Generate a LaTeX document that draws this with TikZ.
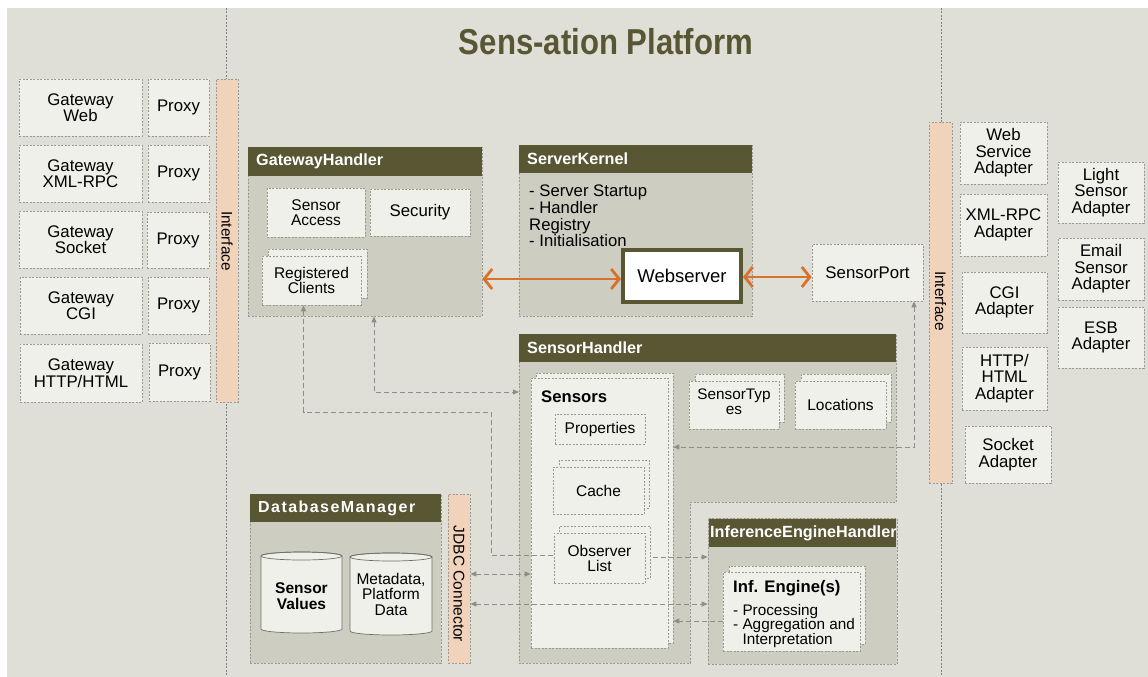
\documentclass[tikz,border=0pt]{standalone}
\usepackage{fontspec}
\usepackage{graphicx}
\setmainfont{Liberation Sans}
\usetikzlibrary{arrows.meta}
\pgfdeclarelayer{mid}
\pgfdeclarelayer{top}
\pgfsetlayers{main,mid,top}
\definecolor{bgc}{HTML}{DFDFD8}
\definecolor{panelc}{HTML}{CDCDC1}
\definecolor{sheetc}{HTML}{F0F0EB}
\definecolor{olivec}{HTML}{585633}
\definecolor{barc}{HTML}{F1D3BB}
\definecolor{orangec}{HTML}{D8722B}
\definecolor{edgec}{HTML}{9A9A92}
\definecolor{connc}{HTML}{8E8E88}
\definecolor{cylc}{HTML}{707068}
\newcommand{\fsz}[2]{\fontsize{#1}{#2}\selectfont}
\newcommand{\boxat}[7]{\node[#1, minimum width={(#5-#3)*1pt}, minimum height={(#6-#4)*1pt}] (#2) at ({(#3+#5)/2},{(#4+#6)/2}) {#7};}
\tikzset{
  edgeline/.style={draw=edgec, line width=0.7pt, dash pattern=on 2pt off 1.5pt},
  sheetbg/.style={edgeline, fill=sheetc, inner sep=0pt},
  sheet/.style={edgeline, fill=sheetc, inner sep=0pt, align=center, font=\fsz{16.8}{16.5}},
  smalltext/.style={font=\fsz{15.5}{15.5}},
  panel/.style={edgeline, fill=panelc, inner sep=0pt},
  hdr/.style={fill=olivec, inner sep=0pt},
  hdrtext/.style={text=white, font=\bfseries\fsz{16.2}{16}, anchor=west, inner sep=0pt},
  bar/.style={edgeline, fill=barc, inner sep=0pt},
  bartext/.style={rotate=-90, font=\fsz{15.3}{15}, inner sep=0pt},
  webbox/.style={draw=olivec, line width=4pt, fill=white, inner sep=0pt, font=\fsz{18.5}{18.5}},
  cyl/.style={draw=cylc, line width=0.7pt, fill=sheetc},
  conn/.style={draw=connc, line width=0.8pt, dash pattern=on 5pt off 3pt, >={Triangle[length=6pt,width=5pt]}},
  oarrow/.style={draw=orangec, line width=2.8pt, arrows={Straight Barb[length=8pt,width=20pt]-Straight Barb[length=8pt,width=20pt]}},
}
\begin{document}
\begin{tikzpicture}[x=1pt,y=-1pt]
\useasboundingbox (0,0) rectangle (1148,677);
\fill[white] (0,0) rectangle (1148,677);
\fill[bgc] (7,8) rectangle (1148,677);
% separators
\draw[draw=gray, line width=0.6pt, dash pattern=on 2pt off 1.5pt] (226,8) -- (226,677);
\draw[draw=gray, line width=0.6pt, dash pattern=on 2pt off 1.5pt] (941,8) -- (941,677);
% title
\node[font=\bfseries\fsz{36}{36}, text=olivec, inner sep=0pt] (title) at (606,42) {\scalebox{0.865}[1]{Sens-ation Platform}};
% left column
\boxat{sheet}{gw1}{19}{79}{142}{136}{Gateway\\Web}
\boxat{sheet}{px1}{148}{79}{209}{136}{Proxy}
\boxat{sheet}{gw2}{19}{145}{142}{202}{Gateway\\XML-RPC}
\boxat{sheet}{px2}{148}{145}{209}{202}{Proxy}
\boxat{sheet}{gw3}{19}{211}{142}{268}{Gateway\\Socket}
\boxat{sheet}{px3}{147}{212}{209}{268}{Proxy}
\boxat{sheet}{gw4}{20}{277}{142}{334}{Gateway\\CGI}
\boxat{sheet}{px4}{148}{277}{209}{334}{Proxy}
\boxat{sheet}{gw5}{20}{344}{142}{402}{Gateway\\HTTP/HTML}
\boxat{sheet}{px5}{149}{343}{210}{401}{Proxy}
\boxat{bar}{ifl}{216}{79}{238}{402}{}
\node[bartext] (iflt) at (227,241) {Interface};
% GatewayHandler
\boxat{panel}{gh}{248}{147}{482}{316}{}
\boxat{hdr}{ghh}{248}{147}{482}{176}{}
\node[hdrtext] (ght) at (256,161.5) {GatewayHandler};
\boxat{sheet,smalltext}{sa}{267}{188}{365}{237}{Sensor\\Access}
\boxat{sheet}{sec}{370}{189}{470}{236}{Security}
\boxat{sheetbg}{rcb}{268}{249}{367}{298}{}
\boxat{sheet,smalltext}{rc}{262}{256}{361}{305}{Registered\\Clients}
% ServerKernel
\boxat{panel}{sk}{519}{145}{752}{316}{}
\boxat{hdr}{skh}{519}{145}{752}{173}{}
\node[hdrtext] (skt) at (527,159) {ServerKernel};
\node[anchor=north west, align=left, inner sep=0pt, font=\fsz{16.7}{16.7}] (skl) at (529,185) {- Server Startup\\- Handler\\Registry\\- Initialisation};
\boxat{webbox}{web}{623}{250}{741}{302}{Webserver}
\boxat{sheet}{sp}{812}{244}{923}{301}{SensorPort}
% right interface and adapters
\boxat{bar}{ifr}{929}{122}{952}{483}{}
\node[bartext] (ifrt) at (940.5,301) {Interface};
\boxat{sheet}{ws}{960}{122}{1047}{184}{Web\\Service\\Adapter}
\boxat{sheet}{xr}{960}{194}{1047}{256}{XML-RPC\\Adapter}
\boxat{sheet}{cg}{962}{272}{1047}{333}{CGI\\Adapter}
\boxat{sheet}{ht}{962}{347}{1047}{410}{HTTP/\\HTML\\Adapter}
\boxat{sheet}{so}{965}{426}{1051}{483}{Socket\\Adapter}
\boxat{sheet}{li}{1058}{162}{1144}{223}{Light\\Sensor\\Adapter}
\boxat{sheet}{em}{1058}{238}{1144}{300}{Email\\Sensor\\Adapter}
\boxat{sheet}{es}{1058}{307}{1144}{368}{ESB\\Adapter}
% SensorHandler
\path[panel] (519,334) -- (896,334) -- (896,502) -- (690,502) -- (690,663) -- (519,663) -- cycle;
\coordinate (shw) at (519,392);
\boxat{hdr}{shh}{519}{334}{896}{362}{}
\node[hdrtext] (sht) at (527,348) {SensorHandler};
\boxat{sheetbg}{sensb}{536}{373}{673}{643}{}
\boxat{sheet}{sens}{531}{378}{668}{648}{}
\node[font=\bfseries\fsz{16.7}{16.5}, anchor=west, inner sep=0pt] (senst) at (541,397) {Sensors};
\boxat{sheetbg}{stb}{695}{374}{784}{422}{}
\boxat{sheet,font=\fsz{15.3}{15}, text depth=7pt}{st}{689}{381}{779}{429}{SensorTyp\\es}
\boxat{sheetbg}{lob}{801}{374}{891}{422}{}
\boxat{sheet,smalltext}{lo}{795}{381}{886}{429}{Locations}
% InferenceEngineHandler
\boxat{panel}{ieh}{708}{518}{897}{664}{}
\boxat{hdr}{iehh}{709}{519}{896}{547}{}
\node[hdrtext] (iehht) at (710,533) {InferenceEngineHandler};
\boxat{sheetbg}{infb}{729}{566}{865}{644}{}
\boxat{sheet}{inf}{723}{572}{860}{651}{}
\node[font=\bfseries\fsz{16.7}{16.5}, anchor=west, inner sep=0pt] (inft) at (733,588) {Inf. Engine(s)};
\node[anchor=north west, align=left, inner sep=0pt, font=\fsz{15.3}{14.6}] (infl) at (733,604) {- Processing\\- Aggregation and\\\phantom{- }Interpretation};
% DatabaseManager
\boxat{panel}{db}{250}{494}{441}{663}{}
\boxat{hdr}{dbh}{250}{494}{441}{522}{}
\node[hdrtext, font=\bfseries\fsz{16}{16}\addfontfeatures{LetterSpace=9}] (dbt) at (258,508) {DatabaseManager};
\path[cyl] (261,556) -- (261,629) arc[start angle=180,end angle=0,x radius=40.5,y radius=4] -- (342,556) arc[start angle=0,end angle=-180,x radius=40.5,y radius=4] -- cycle;
\draw[cyl, fill=none] (301.5,556) ellipse [x radius=40.5, y radius=4];
\node[font=\bfseries\fsz{15.5}{15.5}, align=center, inner sep=0pt] (sv) at (301.5,596) {Sensor\\Values};
\path[cyl] (350,557) -- (350,631) arc[start angle=180,end angle=0,x radius=41,y radius=4] -- (432,557) arc[start angle=0,end angle=-180,x radius=41,y radius=4] -- cycle;
\draw[cyl, fill=none] (391,557) ellipse [x radius=41, y radius=4];
\node[font=\fsz{15.5}{15.5}, align=center, inner sep=0pt] (md) at (391,594) {Metadata,\\Platform\\Data};
\boxat{bar}{jdbc}{448}{494}{470}{663}{}
\node[bartext, font=\fsz{15.5}{15.3}] (jdbct) at (459,584) {JDBC Connector};
% inner sensor boxes above connectors
\begin{pgfonlayer}{top}
\boxat{sheet,smalltext}{pr}{555}{414}{645}{444}{Properties}
\boxat{sheetbg}{cab}{559}{460}{649}{508}{}
\boxat{sheet,smalltext}{ca}{553}{467}{644}{514}{Cache}
\boxat{sheetbg}{obb}{559}{526}{650}{578}{}
\boxat{sheet,font=\fsz{15.5}{15}}{obs}{554}{533}{645}{583}{Observer\\List}
\coordinate (oa) at ([yshift=-3pt]web.west);
\coordinate (ob) at ([yshift=-1pt]web.east);
\draw[oarrow] (oa -| gh.east) -- (oa);
\draw[oarrow] (ob) -- (ob -| sp.west);
\end{pgfonlayer}
% connectors
\begin{pgfonlayer}{mid}
\coordinate (c1) at (491,412);
\coordinate (o1) at ([yshift=3pt]obs.west);
\coordinate (o2) at ([yshift=1pt]obs.east);
\coordinate (r5) at (0,574);
\coordinate (r6) at (0,604);
\coordinate (r7) at (0,621);
\draw[conn,<-] ([xshift=-8pt]rc.south) |- (c1) |- (o1);
\draw[conn,->] (o2) -- (o2 -| ieh.west);
\draw[conn,<->] ([xshift=9pt]gh.south) |- (shw);
\draw[conn,<->] ([xshift=46.5pt]sp.south) |- ([yshift=61pt]sensb.east);
\draw[conn,<->] (jdbc.east |- r5) -- (sens.west |- r5);
\draw[conn,<->] (jdbc.east |- r6) -- (ieh.west |- r6);
\draw[conn,->] (inf.west |- r7) -- (sensb.east |- r7);
\end{pgfonlayer}
\end{tikzpicture}
\end{document}
